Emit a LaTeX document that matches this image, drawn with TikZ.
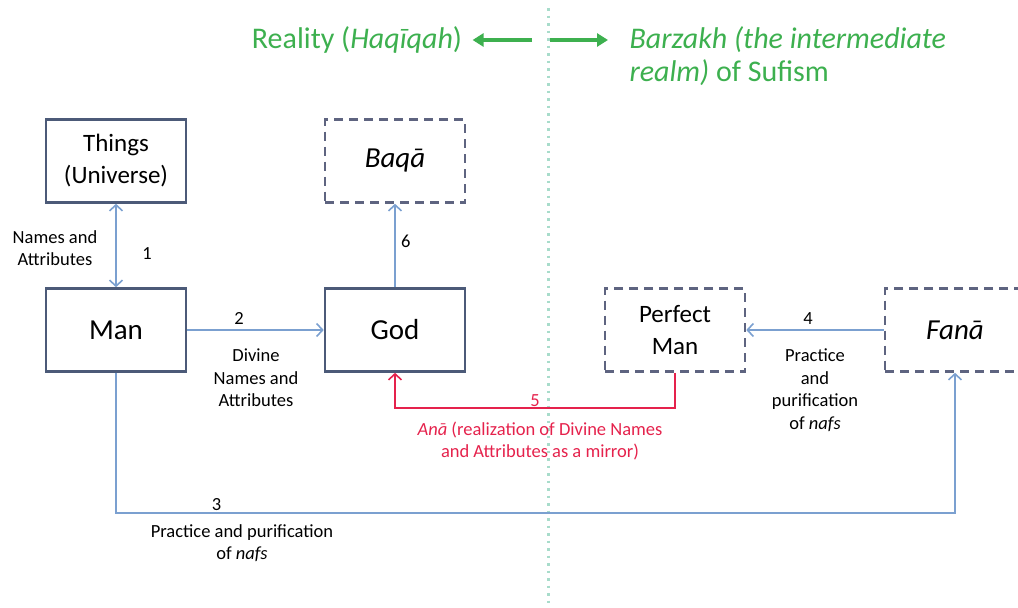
\documentclass[tikz,border=0pt]{standalone}
\usepackage{fontspec}
\setmainfont{Carlito}
\usetikzlibrary{arrows.meta, calc, positioning}
\definecolor{boxline}{HTML}{4C5A78}
\definecolor{dashline}{HTML}{5E6480}
\definecolor{link}{HTML}{7BA0D0}
\definecolor{mirror}{HTML}{E5224C}
\definecolor{realm}{HTML}{3DB04F}
\definecolor{divider}{HTML}{A8DCCB}

\begin{document}
\begin{tikzpicture}
  [
    x=1pt, y=-1pt,
    >={Straight Barb[length=6pt,width=13pt,line width=1.6pt]},
    concept/.style = {draw=boxline, line width=2.6pt, rectangle, minimum width=140pt, minimum height=83pt, align=center, font=\fontsize{25}{32}\selectfont},
    big/.style     = {font=\fontsize{29}{32}\selectfont},
    stage/.style   = {concept, draw=dashline, dash pattern=on 9pt off 6pt},
    link/.style    = {draw=link, line width=1.5pt},
    note/.style    = {align=center, font=\fontsize{18.5}{22.5}\selectfont},
    head/.style    = {text=realm, align=left, font=\fontsize{30}{33}\selectfont},
  ]

  \path[use as bounding box, clip] (0,0) rectangle (1018,608);

  % the divider
  \draw[divider, line width=3pt, dash pattern=on 2.5pt off 5pt] (548,8) -- (548,608);

  % heading
  \node (reality) at (357,40) [head] {Reality (\textit{Haqīqah})};
  \node (barzakh) at (626,56) [head, anchor=west] {\textit{Barzakh (the intermediate}\\\textit{realm)} of Sufism};
  \coordinate (divl) at (532,40);
  \coordinate (divr) at (550,40);
  \draw[-{Triangle[length=11pt,width=13pt]}, realm, line width=3.5pt] (divl) -- ($(reality.east)+(7,0)$);
  \draw[-{Triangle[length=11pt,width=13pt]}, realm, line width=3.5pt] (divr) -- ($(barzakh.west |- divr)+(-18,0)$);

  % the boxes
  \node (things) at (116,161) [concept] {Things\\(Universe)};
  \node (man)    at (116,330) [concept, big] {Man};
  \node (god)    at (395,330) [concept, big] {God};
  \node (baqa)   at (395,161) [stage, big] {\textit{Baqā}};
  \node (pman)   at (675,330) [stage] {Perfect\\Man};
  \node (fana)   at (955,330) [stage, big] {\textit{Fanā}};

  % the links
  \draw[link, <->] (things) -- (man);
  \node at (55,248) [note] {Names and\\Attributes};
  \node at (147,254) [note] {1};

  \draw[link, ->] (man) -- node [note, above=1pt, pos=0.38] {2} (god);
  \node at (256,378) [note] {Divine\\Names and\\Attributes};

  \draw[link, ->] (god) -- node [note, right=2pt, pos=0.55] {6} (baqa);

  \draw[link, ->] (fana) -- node [note, above=1pt, pos=0.55] {4} (pman);
  \node at (815,390) [note] {Practice\\and\\purification\\of \textit{nafs}};

  \coordinate (low3) at (0,513);
  \draw[link, ->] (man.south) |- node [note, above=-2pt, pos=0.56] {3} (low3 -| fana.south) -- (fana.south);
  \node at (242,543) [note] {Practice and purification\\of \textit{nafs}};

  \coordinate (low5) at (0,408);
  \draw[mirror, line width=1.5pt, ->] (pman.south) |- node [note, text=mirror, above=-3pt, pos=0.75] {5} (low5 -| god.south) -- (god.south);
  \node at (540,441) [note, text=mirror] {\textit{Anā} (realization of Divine Names\\and Attributes as a mirror)};

\end{tikzpicture}
\end{document}
